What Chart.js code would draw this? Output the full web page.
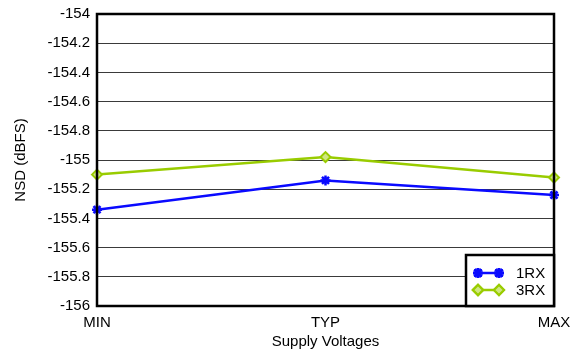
<!DOCTYPE html>
<html>
<head>
<meta charset="utf-8">
<script src="https://cdn.jsdelivr.net/npm/chart.js@4/dist/chart.umd.min.js"></script>
<style>
html,body{margin:0;padding:0;background:#fff;}
#wrap{width:573px;height:351px;position:relative;}
</style>
</head>
<body>
<div id="wrap"><canvas id="c" width="573" height="351"></canvas></div>
<script>
const categories = ['MIN', 'TYP', 'MAX'];
const series1RX = [-155.34, -155.14, -155.24];
const series3RX = [-155.10, -154.98, -155.12];
const seriesNames = ['1RX', '3RX'];
const yMin = -156, yMax = -154, yStep = 0.2;

const FONT = 'Liberation Sans, Arial, sans-serif';
const BLUE = '#0a0aff';
const GREEN = '#99cc00';

const frameAndLegend = {
  id: 'frameAndLegend',
  afterDatasetsDraw(chart) {
    const ctx = chart.ctx;
    const a = chart.chartArea;
    ctx.save();
    ctx.strokeStyle = '#000';
    ctx.lineWidth = 2.5;
    ctx.strokeRect(a.left, a.top, a.right - a.left, a.bottom - a.top);
    // legend box
    const bw = 88, bh = 51;
    const bx = a.right - bw, by = a.bottom - bh;
    ctx.fillStyle = '#fff';
    ctx.fillRect(bx, by, bw, bh);
    ctx.lineWidth = 2.5;
    ctx.strokeRect(bx, by, bw, bh);
    chart.data.datasets.forEach((ds, i) => {
      const y = by + 18 + i * 17;
      const x0 = bx + 9, x1 = bx + 36;
      ctx.strokeStyle = ds.borderColor;
      ctx.lineWidth = 2.5;
      ctx.beginPath(); ctx.moveTo(x0, y); ctx.lineTo(x1, y); ctx.stroke();
      [x0 + 3, x1 - 3].forEach(px => {
        Chart.helpers.drawPoint(ctx, {
          pointStyle: ds.pointStyle, radius: ds.pointRadius, borderWidth: ds.pointBorderWidth, rotation: 0
        }, px, y);
        ctx.fillStyle = ds.pointBackgroundColor;
        ctx.strokeStyle = ds.borderColor;
        ctx.lineWidth = ds.pointBorderWidth;
        ctx.beginPath();
        Chart.helpers.drawPoint(ctx, {pointStyle: ds.pointStyle, radius: ds.pointRadius, borderWidth: ds.pointBorderWidth, rotation: 0}, px, y);
        ctx.fill(); ctx.stroke();
      });
      ctx.fillStyle = '#000';
      ctx.font = '15px ' + FONT;
      ctx.textBaseline = 'middle';
      ctx.textAlign = 'left';
      ctx.fillText(ds.label, bx + 50, y + 1);
    });
    ctx.restore();
  }
};

new Chart(document.getElementById('c'), {
  type: 'line',
  data: {
    labels: categories,
    datasets: [
      {
        label: seriesNames[0], data: series1RX,
        borderColor: BLUE, backgroundColor: BLUE, borderWidth: 2.5,
        pointStyle: 'star', pointRadius: 5, pointBorderWidth: 2.5,
        pointBackgroundColor: BLUE, pointBorderColor: BLUE, tension: 0
      },
      {
        label: seriesNames[1], data: series3RX,
        borderColor: GREEN, backgroundColor: GREEN, borderWidth: 2.5,
        pointStyle: 'rectRot', pointRadius: 5, pointBorderWidth: 2,
        pointBackgroundColor: '#cfe682', pointBorderColor: GREEN, tension: 0
      }
    ]
  },
  options: {
    responsive: false,
    animation: false,
    events: [],
    layout: { padding: { top: 14, right: 19, left: 0, bottom: 0 } },
    plugins: { legend: { display: false }, tooltip: { enabled: false } },
    scales: {
      x: {
        type: 'category',
        offset: false,
        grid: { display: false, drawTicks: false },
        border: { display: false },
        ticks: { color: '#000', font: { family: FONT, size: 15 }, padding: 8, maxRotation: 0, autoSkip: false },
        title: { display: true, text: 'Supply Voltages', color: '#000', font: { family: FONT, size: 15 }, padding: { top: 1, bottom: 0 } },
        afterFit(s) { s.height = 45; s.paddingLeft = 0; s.paddingRight = 0; }
      },
      y: {
        min: yMin, max: yMax,
        grid: { color: '#3a3a3a', lineWidth: 1, drawTicks: false },
        border: { display: false },
        ticks: {
          stepSize: yStep, color: '#000', font: { family: FONT, size: 15 }, padding: 7,
          callback: v => String(parseFloat(Number(v).toFixed(1)))
        },
        title: { display: true, text: 'NSD (dBFS)', color: '#000', font: { family: FONT, size: 15 }, padding: { top: 12, bottom: 0 } },
        afterFit(s) { s.width = 97; s.paddingTop = 0; s.paddingBottom = 0; }
      }
    }
  },
  plugins: [frameAndLegend]
});
</script>
</body>
</html>
